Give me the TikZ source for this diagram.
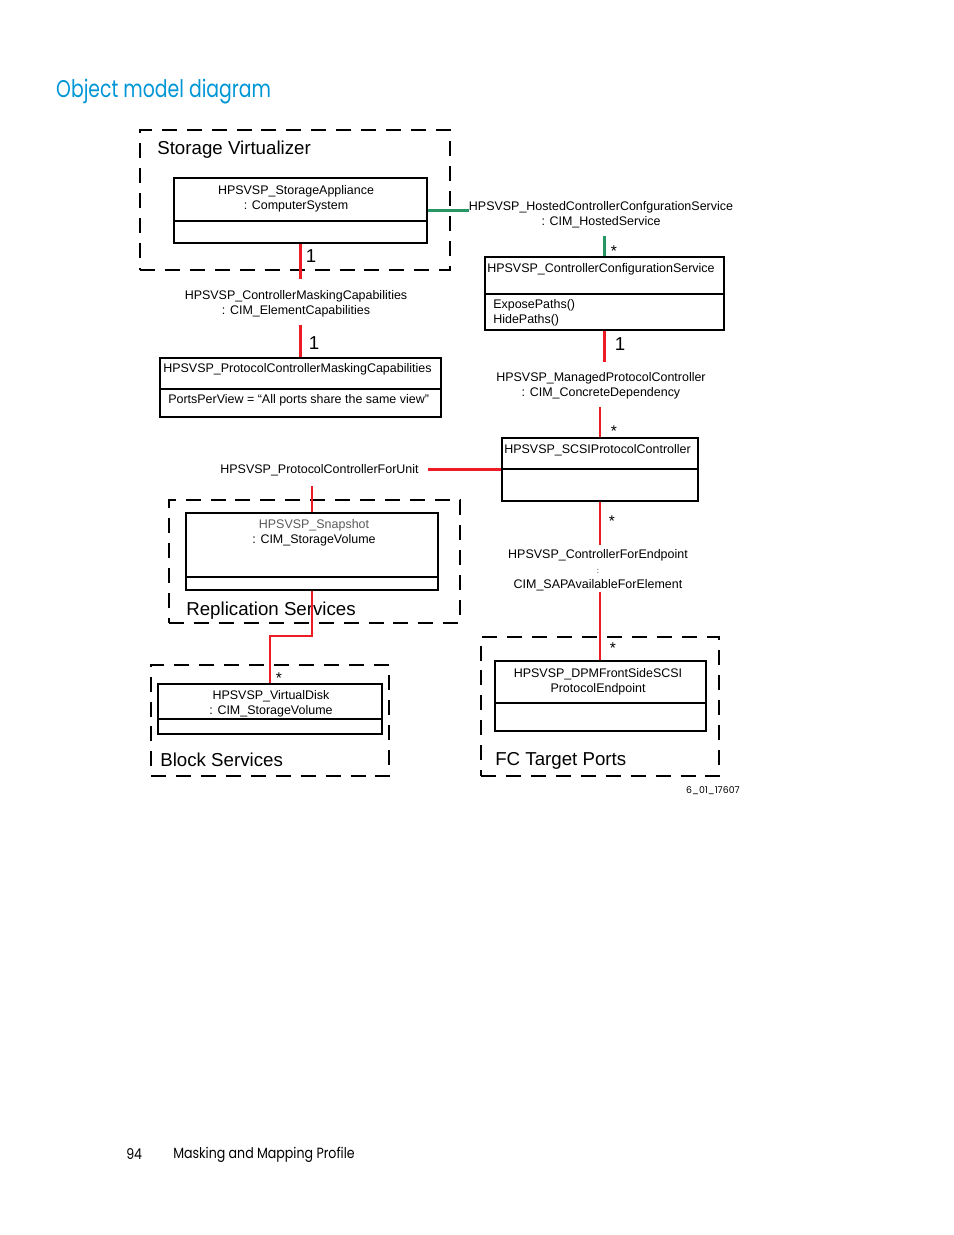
\documentclass[tikz,border=0pt]{standalone}
\usepackage{fontspec}
\setmainfont{Liberation Sans}
\newfontfamily\hpfont{Poppins}
\usetikzlibrary{fit}
\definecolor{hpblue}{RGB}{0,150,214}
\definecolor{assocred}{RGB}{237,28,36}
\definecolor{assocgreen}{RGB}{40,150,100}
\begin{document}
\begin{tikzpicture}[x=0.6415pt,y=-0.6415pt,
  uml/.style={draw,line width=1.3pt,inner sep=0pt},
  group/.style={draw,line width=1.3pt,dash pattern=on 9.6pt off 6.4pt,inner sep=0pt},
  lbl/.style={font=\fontsize{8}{9.6}\selectfont,inner sep=0pt,align=center},
  grp/.style={font=\fontsize{12}{14}\selectfont,inner sep=0pt,anchor=base west},
  one/.style={font=\fontsize{12}{14}\selectfont,inner sep=0pt},
  many/.style={font=\fontsize{10}{12}\selectfont,inner sep=0pt},
  redlink/.style={draw=assocred,line width=1.3pt},
  greenlink/.style={draw=assocgreen,line width=1.3pt},
  dimtext/.style={text=black!70}]
\useasboundingbox (0,0) rectangle (954,1235);

% page title and footer
\node[font=\hpfont\fontsize{15.5}{18}\selectfont,text=hpblue,anchor=west,inner sep=0pt,xscale=0.78] (title) at (56,92) {Object model diagram};
\node[font=\hpfont\fontsize{9.5}{12}\selectfont,anchor=west,inner sep=0pt,xscale=0.85] (pgno) at (126,1154.5) {94};
\node[font=\hpfont\fontsize{9.5}{12}\selectfont,anchor=west,inner sep=0pt,xscale=0.85] (chap) at (173,1154.5) {Masking and Mapping Profile};
\node[font=\hpfont\fontsize{6}{7}\selectfont,inner sep=0pt] (figid) at (713,791) {6\_01\_17607};

% group boxes
\node[group,fit={(140,130) (450,270)}] (gsv) {};
\node[group,fit={(169,500) (460,623)}] (grs) {};
\node[group,fit={(151,665) (389,776)}] (gbs) {};
\node[group,fit={(481,637) (719,776)}] (gfc) {};
\node[grp] (gsvT) at (157,154.5) {Storage Virtualizer};
\node[grp] (grsT) at (186,615.5) {Replication Services};
\node[grp] (gbsT) at (160,766.5) {Block Services};
\node[grp] (gfcT) at (495,765.5) {FC Target Ports};

% class boxes
\node[uml,fit={(174,178) (427,243)}] (sa) {};
\draw[line width=1.3pt] (sa.west |- 0,221) -- (sa.east |- 0,221);
\node[lbl] (saT) at (296,198.5) {HPSVSP\_StorageAppliance\\: ComputerSystem};

\node[uml,fit={(485,257) (724,330)}] (ccs) {};
\draw[line width=1.3pt] (ccs.west |- 0,294) -- (ccs.east |- 0,294);
\node[lbl,anchor=west] (ccsT) at (487,269.5) {HPSVSP\_ControllerConfigurationService};
\node[lbl,anchor=west,align=left] (ccsM) at (493,312.5) {ExposePaths()\\HidePaths()};

\node[uml,fit={(160,358) (441,417)}] (pcmc) {};
\draw[line width=1.3pt] (pcmc.west |- 0,389) -- (pcmc.east |- 0,389);
\node[lbl,anchor=west] (pcmcT) at (163,369.5) {HPSVSP\_ProtocolControllerMaskingCapabilities};
\node[lbl,anchor=west] (pcmcA) at (168,400.5) {PortsPerView = “All ports share the same view”};

\node[uml,fit={(502,438) (698,501)}] (scsi) {};
\draw[line width=1.3pt] (scsi.west |- 0,469) -- (scsi.east |- 0,469);
\node[lbl,anchor=west] (scsiT) at (504,450.5) {HPSVSP\_SCSIProtocolController};

\node[uml,fit={(186,513) (438,590)}] (snap) {};
\draw[line width=1.3pt] (snap.west |- 0,577) -- (snap.east |- 0,577);
\node[lbl] (snapT) at (314,533) {\textcolor{black!65}{HPSVSP\_Snapshot}\\: CIM\_StorageVolume};

\node[uml,fit={(158,684) (382,734)}] (vd) {};
\draw[line width=1.3pt] (vd.west |- 0,719) -- (vd.east |- 0,719);
\node[lbl] (vdT) at (271,704) {HPSVSP\_VirtualDisk\\: CIM\_StorageVolume};

\node[uml,fit={(495,661) (706,731)}] (dpm) {};
\draw[line width=1.3pt] (dpm.west |- 0,703) -- (dpm.east |- 0,703);
\node[lbl] (dpmT) at (598,682) {HPSVSP\_DPMFrontSideSCSI\\ProtocolEndpoint};

% association labels
\node[lbl] (hcs) at (601,214.5) {HPSVSP\_HostedControllerConfgurationService\\: CIM\_HostedService};
\node[lbl] (cmc) at (296,303.5) {HPSVSP\_ControllerMaskingCapabilities\\: CIM\_ElementCapabilities};
\node[lbl] (mpc) at (601,385.5) {HPSVSP\_ManagedProtocolController\\: CIM\_ConcreteDependency};
\node[lbl,anchor=east,inner xsep=5.8pt] (pcfu) at (428,470.5) {HPSVSP\_ProtocolControllerForUnit};
\node[lbl] (cfe) at (598,570) {HPSVSP\_ControllerForEndpoint\\{\fontsize{5}{6}\selectfont :}\\CIM\_SAPAvailableForElement};

% connector end points
\coordinate (cmcA) at (300.5,279);
\coordinate (cmcB) at (300.5,325);
\coordinate (hcsB) at (604.5,236);
\coordinate (mpcA) at (604.5,362);
\coordinate (mpcB) at (600,407);
\coordinate (pcfuB) at (312,486);
\coordinate (cfeA) at (600,545);
\coordinate (cfeB) at (600,592);
\coordinate (bend) at (270,636);

% connectors
\draw[greenlink] (sa.east) -- (sa.east -| hcs.west);
\draw[greenlink] (hcsB) -- (ccs.north);
\draw[redlink] (sa.south) -- (cmcA);
\draw[redlink] (cmcB) -- (pcmc.north);
\draw[redlink] (ccs.south) -- (mpcA);
\draw[redlink] (mpcB) -- (scsi.north);
\draw[redlink] (scsi.west) -- (scsi.west -| pcfu.east);
\draw[redlink] (pcfuB) -- (snap.north);
\draw[redlink] (scsi.south) -- (cfeA);
\draw[redlink] (cfeB) -- (dpm.north -| cfeB);
\draw[redlink] (snap.south) |- (bend) -- (vd.north);

% multiplicities
\node[one] (m1) at (311,256) {1};
\node[many] (m2) at (614,251) {*};
\node[one] (m3) at (314,343) {1};
\node[one] (m4) at (620,344) {1};
\node[many] (m5) at (614,431) {*};
\node[many] (m6) at (612,521) {*};
\node[many] (m7) at (613,648) {*};
\node[many] (m8) at (279,678) {*};
\end{tikzpicture}
\end{document}
